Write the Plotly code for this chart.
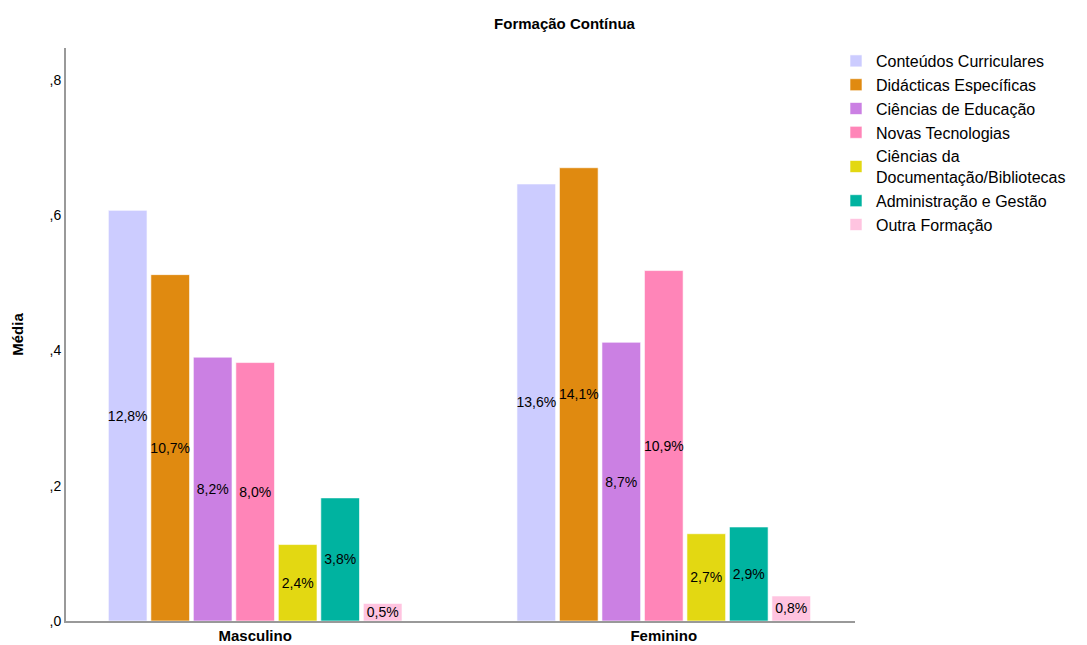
import plotly.graph_objects as go

groups = ["Masculino", "Feminino"]
series_names = [
    "Conteúdos Curriculares",
    "Didácticas Específicas",
    "Ciências de Educação",
    "Novas Tecnologias",
    "Ciências da<br>Documentação/Bibliotecas",
    "Administração e Gestão",
    "Outra Formação",
]
means_masculino = [0.607, 0.512, 0.390, 0.382, 0.113, 0.182, 0.026]
means_feminino = [0.646, 0.670, 0.412, 0.518, 0.129, 0.139, 0.037]
pct_masculino = ["12,8%", "10,7%", "8,2%", "8,0%", "2,4%", "3,8%", "0,5%"]
pct_feminino = ["13,6%", "14,1%", "8,7%", "10,9%", "2,7%", "2,9%", "0,8%"]
colors = ["#CCCCFF", "#E08A10", "#CB80E3", "#FF85B8", "#E3D812", "#00B3A0", "#FFC4E0"]
y_tickvals = [0, 0.2, 0.4, 0.6, 0.8]
y_ticktext = [",0", ",2", ",4", ",6", ",8"]

FONT = "Arial, Liberation Sans, sans-serif"

fig = go.Figure()
for i, name in enumerate(series_names):
    fig.add_trace(go.Bar(
        x=groups,
        y=[means_masculino[i], means_feminino[i]],
        name=name,
        text=[pct_masculino[i], pct_feminino[i]],
        textposition="inside",
        insidetextanchor="middle",
        textangle=0,
        textfont=dict(family=FONT, size=14, color="#000000"),
        marker=dict(color=colors[i], line=dict(color="rgba(255,255,255,0.6)", width=1)),
        hoverinfo="skip",
    ))

fig.update_layout(
    width=1087, height=645,
    barmode="group",
    bargap=0.272,
    bargroupgap=0.09,
    paper_bgcolor="white",
    plot_bgcolor="white",
    margin=dict(l=66, r=232, t=48, b=24, autoexpand=False),
    font=dict(family=FONT, color="#000000"),
    uniformtext=dict(minsize=14, mode="show"),
    title=dict(
        text="Formação Contínua",
        x=564.5 / 1087, xref="container", xanchor="center",
        y=1 - 24 / 645, yref="container", yanchor="middle",
        font=dict(family=FONT, size=15, weight="bold", color="#000000"),
    ),
    legend=dict(
        x=(836 - 66) / (1087 - 66 - 232), xanchor="left",
        y=1.0 + 4 / 573, yanchor="top",
        font=dict(family=FONT, size=16, color="#000000"),
        itemwidth=30,
        tracegroupgap=0,
        bgcolor="rgba(0,0,0,0)",
    ),
    xaxis=dict(
        range=[-0.463, 1.468],
        showline=True, linecolor="#999999", linewidth=2,
        ticks="", showgrid=False, zeroline=False, automargin=False,
        tickfont=dict(family=FONT, size=15, weight="bold", color="#000000"),
    ),
    yaxis=dict(
        range=[0, 0.847],
        tickvals=y_tickvals, ticktext=y_ticktext,
        showline=True, linecolor="#999999", linewidth=2,
        ticks="", showgrid=False, zeroline=False, automargin=False,
        tickfont=dict(family=FONT, size=14, color="#000000"),
        title=dict(text="Média", standoff=22,
                   font=dict(family=FONT, size=15, weight="bold", color="#000000")),
    ),
)

fig.write_html("out.html")
